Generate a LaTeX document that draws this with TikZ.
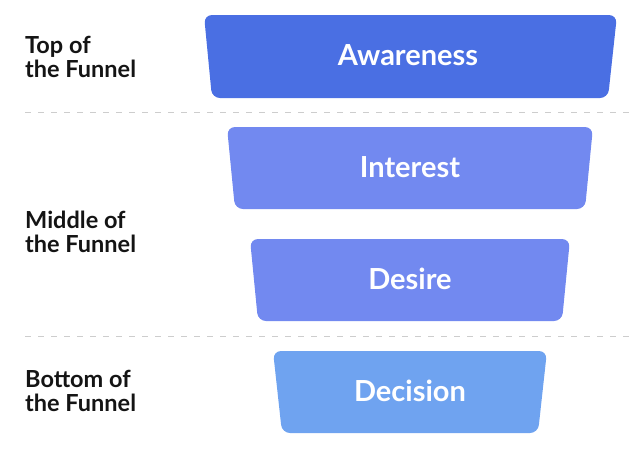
\documentclass[tikz,border=0pt]{standalone}
\usepackage{fontspec}
\setmainfont{Lato}
\definecolor{cAware}{RGB}{74,111,227}
\definecolor{cMid}{RGB}{114,137,240}
\definecolor{cDec}{RGB}{111,163,240}
\definecolor{cDash}{RGB}{205,205,205}
\definecolor{cText}{RGB}{20,20,20}
\begin{document}
\begin{tikzpicture}[x=1pt,y=-1pt,
  stage/.style={rounded corners=8pt},
  stagetext/.style={text=white,font=\fontsize{29}{32}\selectfont\bfseries,inner sep=0pt},
  sidelabel/.style={text=cText,font=\fontsize{23.5}{24}\selectfont\bfseries,align=left,anchor=west,inner sep=0pt},
  divider/.style={draw=cDash,dash pattern=on 6pt off 7pt,line width=1pt}]
\useasboundingbox (0,0) rectangle (630,472);
% stages
\fill[cAware,stage] (204,15) -- (617,15) -- (608,98) -- (212,98) -- cycle;
\node[stagetext] (awareness) at (408,55) {Awareness};
\fill[cMid,stage] (227,127) -- (593,127) -- (585,209) -- (235,209) -- cycle;
\node[stagetext] (interest) at (410,167) {Interest};
\fill[cMid,stage] (250,239) -- (570,239) -- (562,321) -- (258,321) -- cycle;
\node[stagetext] (desire) at (410,279) {Desire};
\fill[cDec,stage] (273,351) -- (547,351) -- (538,433) -- (282,433) -- cycle;
\node[stagetext] (decision) at (410,391) {Decision};
% dividers
\coordinate (d1a) at (25,112.5); \coordinate (d1b) at (630,112.5);
\coordinate (d2a) at (25,336.5); \coordinate (d2b) at (630,336.5);
\draw[divider] (d1a) -- (d1b);
\draw[divider] (d2a) -- (d2b);
% side labels
\node[sidelabel] (top) at (25,57) {Top of\\the Funnel};
\node[sidelabel] (middle) at (25,232) {Middle of\\the Funnel};
\node[sidelabel] (bottom) at (25,391) {Bottom of\\the Funnel};
\end{tikzpicture}
\end{document}
